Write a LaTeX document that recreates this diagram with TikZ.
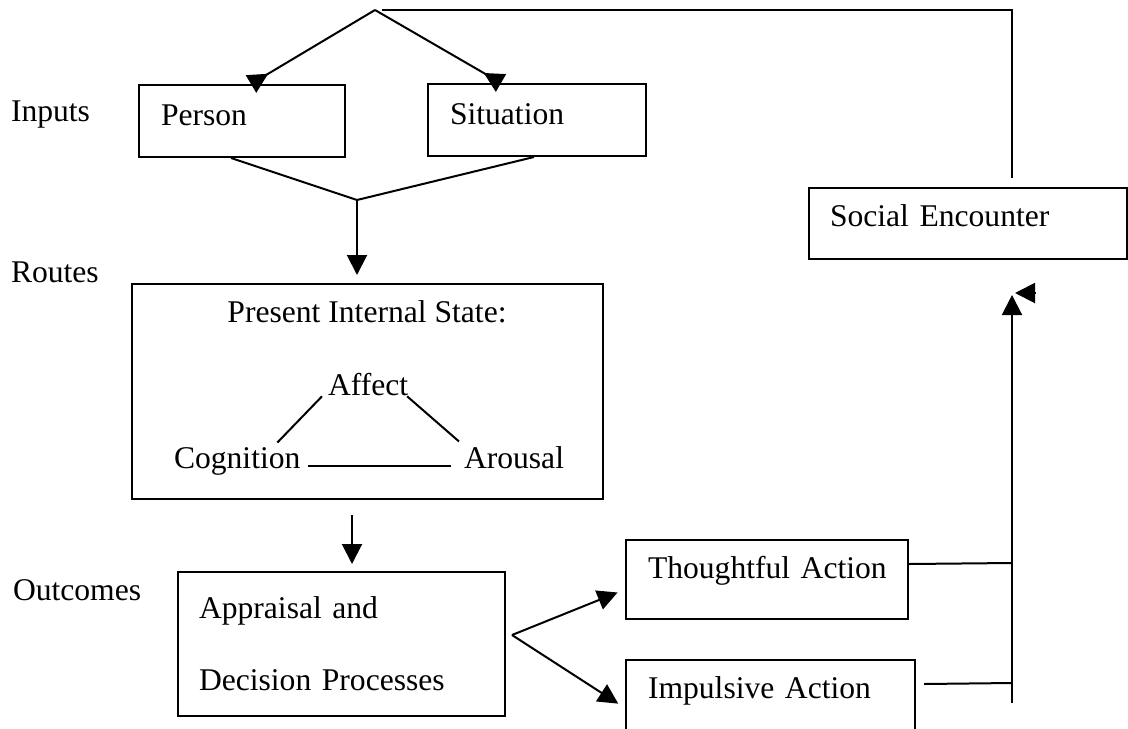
\documentclass[tikz,border=0pt]{standalone}
\usepackage{fontspec}
\setmainfont{Liberation Serif}
\usepackage{tikz}
\usetikzlibrary{positioning}
\usetikzlibrary{calc}
\usetikzlibrary{arrows.meta}

\tikzset{
	box/.style = {draw, line width=1pt, rectangle, anchor=north west, align=left, inner xsep=11pt, inner ysep=0pt, text height=11pt, text depth=7pt},
	lbl/.style = {inner sep=0pt, anchor=base west},
	arr/.style = {-{Triangle[length=10pt,width=10pt]}},
	revarr/.style = {-{Triangle[reversed,length=10pt,width=10pt]}},
}

\begin{document}
\begin{tikzpicture}[x=0.5pt, y=-0.5pt, line width=1pt, font=\fontsize{15.8pt}{19pt}\selectfont]
		\clip (0,0) rectangle (1128,728);

		% row labels
		\node[lbl] at (10,121) (inputs) {Inputs};
		\node[lbl] at (10,282) (routes) {Routes};
		\node[lbl] at (12,600) (outcomes) {Outcomes};

		\node[box, text width=81pt, minimum height=36pt] at (138,84) (person) {Person};
		\node[box, text width=87pt, minimum height=36pt] at (427,83) (situation) {Situation};
		\node[box, inner xsep=10.5pt, text width=138pt, minimum height=35.5pt, text height=10pt, text depth=7.5pt] at (808,187) (social) {\mbox{Social Encounter}};

		\node[box, minimum width=235.5pt, minimum height=107.5pt] at (131,283) (present) {};
		\node[inner sep=0pt, anchor=base] at (367,322) (state) {Present Internal State:};
		\node[lbl] at (327,395) (affect) {Affect};
		\node[lbl] at (173,468) (cognition) {Cognition};
		\node[lbl] at (463,468) (arousal) {Arousal};

		\node[box, inner xsep=10.5pt, text width=142.5pt, minimum height=72pt, text height=, text depth=] at (177,571) (appraisal) {Appraisal and\\[17pt]\mbox{Decision Processes}};
		\node[box, text width=119pt, minimum height=39.5pt, text height=8pt, text depth=9.5pt] at (625,539) (thoughtful) {\mbox{Thoughtful Action}};
		\node[box, text width=122.5pt, minimum height=40pt, text height=8pt, text depth=9.5pt] at (625,659) (impulsive) {\mbox{Impulsive Action}};

		\coordinate (apex) at (375,10);
		\coordinate (corner) at (1012,10);
		\coordinate (merge) at (357,200);
		\coordinate (down) at (352,515);
		\coordinate (branch) at (512,635);
		\coordinate (tj) at (1012,563);
		\coordinate (ij) at (1012,683);
		\coordinate (spinebot) at (1012,703);
		\coordinate (uptip) at (1012,295);
		\coordinate (stub) at (1035,293);

		% inputs
		\draw[revarr] (apex) -- ([xshift=4.5pt]person.north);
		\draw[revarr] (apex) -- ([xshift=-18pt]situation.north);
		\draw[shorten >=4.5pt] ([xshift=3.5pt]apex) -- (corner) -- (corner |- social.north);
		\draw ([xshift=-5.5pt]person.south) -- (merge) -- ([xshift=-1.5pt]situation.south);
		\draw[arr, shorten >=4pt] (merge) -- (merge |- present.north);

		% routes
		\draw ([xshift=-12pt, yshift=1.8pt]cognition.north east) -- ([xshift=-2.5pt]affect.south west);
		\draw ([xshift=-1pt]affect.south east) -- ([xshift=-2pt, yshift=1.8pt]arousal.north west);
		\draw ([xshift=3.5pt, yshift=1pt]cognition.base east) -- ([xshift=-6pt, yshift=1pt]arousal.base west);

		% outcomes
		\draw[arr, shorten >=3.5pt] (down) -- (down |- appraisal.north);
		\draw[arr, shorten >=4pt] (branch) -- ([yshift=-5pt]thoughtful.west);
		\draw[arr, shorten >=4pt] (branch) -- ([yshift=-4pt]impulsive.west);
		\draw ([yshift=7.75pt]thoughtful.east) -- (tj);
		\draw ([xshift=4pt, yshift=8pt]impulsive.east) -- (ij);
		\draw[arr] (spinebot) -- (uptip);
		\draw[arr] (stub) -- ([xshift=1.5pt, yshift=1pt]uptip);
	\end{tikzpicture}
\end{document}
